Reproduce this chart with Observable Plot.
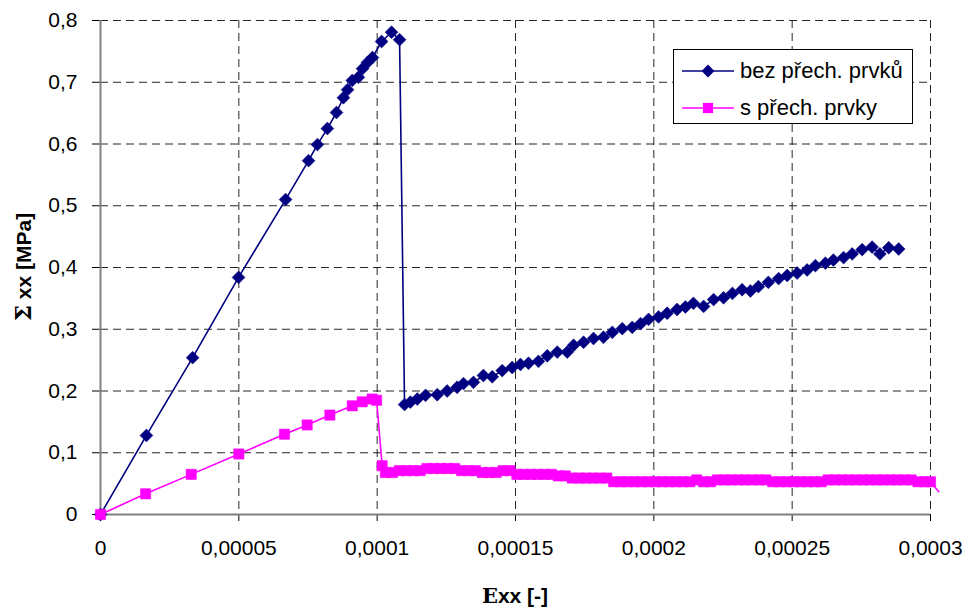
<!DOCTYPE html>
<html><head><meta charset="utf-8">
<script src="https://cdn.jsdelivr.net/npm/d3@7"></script>
<script src="https://cdn.jsdelivr.net/npm/@observablehq/plot@0.6"></script>
<style>body{margin:0;background:#fff}#chart{width:971px;height:610px}</style>
</head><body><div id="chart"></div>
<script>
// series 1: bez přech. prvků
const blueX = [0,1.66e-5,3.33e-5,4.99e-5,6.69e-5,7.52e-5,7.84e-5,8.20e-5,8.53e-5,8.78e-5,8.93e-5,9.10e-5,9.32e-5,9.47e-5,9.65e-5,9.83e-5,1.016e-4,1.052e-4,1.081e-4,
1.099e-4,1.120e-4,1.145e-4,1.175e-4,1.217e-4,1.253e-4,1.289e-4,1.312e-4,1.348e-4,1.384e-4,1.416e-4,1.452e-4,1.488e-4,1.518e-4,1.547e-4,1.583e-4,1.615e-4,1.651e-4,1.687e-4,1.710e-4,1.746e-4,1.782e-4,1.818e-4,1.850e-4,1.886e-4,1.922e-4,1.952e-4,1.981e-4,2.017e-4,2.048e-4,2.084e-4,2.114e-4,2.143e-4,2.180e-4,2.216e-4,2.252e-4,2.284e-4,2.319e-4,2.349e-4,2.378e-4,2.414e-4,2.451e-4,2.482e-4,2.518e-4,2.554e-4,2.584e-4,2.620e-4,2.649e-4,2.686e-4,2.717e-4,2.753e-4,2.789e-4,2.817e-4,2.849e-4,2.885e-4];
const blueY = [0,0.128,0.254,0.384,0.510,0.573,0.599,0.625,0.651,0.675,0.688,0.703,0.708,0.722,0.732,0.740,0.766,0.781,0.769,
0.178,0.182,0.187,0.193,0.194,0.200,0.206,0.212,0.214,0.225,0.223,0.233,0.238,0.243,0.245,0.248,0.257,0.263,0.263,0.274,0.279,0.285,0.287,0.295,0.301,0.303,0.309,0.316,0.320,0.326,0.332,0.336,0.342,0.337,0.348,0.351,0.358,0.364,0.362,0.369,0.376,0.382,0.387,0.391,0.396,0.403,0.407,0.412,0.416,0.422,0.429,0.433,0.422,0.432,0.430];
// series 2: s přech. prvky
const pinkX = [0,1.63e-5,3.28e-5,5.0e-5,6.65e-5,7.47e-5,8.29e-5,9.10e-5,9.46e-5,9.82e-5,9.98e-5,1.018e-4,
1.030e-4,1.055e-4,1.080e-4,1.105e-4,1.130e-4,1.155e-4,1.180e-4,1.205e-4,1.230e-4,1.255e-4,1.280e-4,1.305e-4,1.330e-4,1.355e-4,1.380e-4,1.405e-4,1.430e-4,1.455e-4,1.480e-4,1.505e-4,1.530e-4,1.555e-4,1.580e-4,1.605e-4,1.630e-4,1.655e-4,1.680e-4,1.705e-4,1.730e-4,1.755e-4,1.780e-4,1.805e-4,1.830e-4,
1.855e-4,1.880e-4,1.905e-4,1.930e-4,1.955e-4,1.980e-4,2.005e-4,2.030e-4,2.055e-4,2.080e-4,2.105e-4,2.130e-4,2.155e-4,2.180e-4,2.205e-4,2.230e-4,2.255e-4,2.280e-4,2.305e-4,2.330e-4,2.355e-4,2.380e-4,2.405e-4,2.430e-4,2.455e-4,2.480e-4,2.505e-4,2.530e-4,2.555e-4,2.580e-4,2.605e-4,2.630e-4,2.655e-4,2.680e-4,2.705e-4,2.730e-4,2.755e-4,2.780e-4,2.805e-4,2.830e-4,2.855e-4,2.880e-4,2.905e-4,2.930e-4,2.955e-4,2.980e-4,3.000e-4];
const pinkY = [0,0.0335,0.065,0.098,0.130,0.145,0.161,0.176,0.1825,0.187,0.185,0.079,
0.068,0.068,0.071,0.071,0.071,0.071,0.0745,0.0745,0.0745,0.0745,0.0745,0.071,0.071,0.071,0.068,0.068,0.068,0.071,0.071,0.065,0.065,0.065,0.065,0.065,0.065,0.0625,0.0625,0.059,0.059,0.059,0.059,0.059,0.059,
0.053,0.053,0.053,0.053,0.053,0.053,0.053,0.053,0.053,0.053,0.053,0.053,0.056,0.053,0.053,0.056,0.056,0.056,0.056,0.056,0.056,0.056,0.056,0.053,0.053,0.053,0.053,0.053,0.053,0.053,0.053,0.056,0.056,0.056,0.056,0.056,0.056,0.056,0.056,0.056,0.056,0.056,0.056,0.056,0.053,0.053,0.053];
const pinkTailX = [3.03e-4];
const pinkTailY = [0.037];

const xTicks = [0,0.00005,0.0001,0.00015,0.0002,0.00025,0.0003];
const xTickLabels = ["0","0,00005","0,0001","0,00015","0,0002","0,00025","0,0003"];
const yTicks = [0,0.1,0.2,0.3,0.4,0.5,0.6,0.7,0.8];
const yTickLabels = ["0","0,1","0,2","0,3","0,4","0,5","0,6","0,7","0,8"];
const seriesNames = ["bez přech. prvků","s přech. prvky"];
const colors = ["#000080","#FF00FF"];

const blue = blueX.map((x,i)=>({x, y: blueY[i]}));
const pink = pinkX.map((x,i)=>({x, y: pinkY[i]}));
const pinkLine = pink.concat(pinkTailX.map((x,i)=>({x, y: pinkTailY[i]})));

const font = "'Liberation Sans', Arial, sans-serif";
const svg = Plot.plot({
  width: 971, height: 610,
  marginLeft: 100, marginRight: 41, marginTop: 20, marginBottom: 96,
  style: {fontFamily: font, fontSize: "21px", color: "#000", background: "#fff", overflow: "visible"},
  x: {domain: [0, 0.0003], ticks: xTicks, tickFormat: d => xTickLabels[xTicks.indexOf(d)], tickSize: 7, tickPadding: 19, label: null},
  y: {domain: [0, 0.8], ticks: yTicks, tickFormat: d => yTickLabels[yTicks.indexOf(d)], tickSize: 8, tickPadding: 15, label: null},
  marks: [
    Plot.ruleX(xTicks.slice(1), {stroke: "#000", strokeWidth: 1, strokeDasharray: "8,5", strokeOpacity: 0.85}),
    Plot.ruleY(yTicks.slice(1), {stroke: "#000", strokeWidth: 1, strokeDasharray: "8,5", strokeOpacity: 0.85}),
    Plot.ruleX([0], {stroke: "#808080", strokeWidth: 2}),
    Plot.ruleY([0], {stroke: "#808080", strokeWidth: 2}),
    Plot.line(blue, {x: "x", y: "y", stroke: colors[0], strokeWidth: 1.6}),
    Plot.dot(blue, {x: "x", y: "y", symbol: "diamond2", r: 5.8, fill: colors[0], stroke: colors[0], strokeWidth: 0.5}),
    Plot.line(pinkLine, {x: "x", y: "y", stroke: colors[1], strokeWidth: 1.6}),
    Plot.dot(pink, {x: "x", y: "y", symbol: "square", r: 5.8, fill: colors[1], stroke: colors[1], strokeWidth: 0.5})
  ]
});
document.getElementById("chart").appendChild(svg);

const s = d3.select(svg);
// axis titles
const yt = s.append("text").attr("transform", "translate(31,267) rotate(-90)")
  .attr("text-anchor", "middle").attr("font-weight", "bold").attr("font-size", 21).attr("font-family", font).attr("fill", "#000");
yt.append("tspan").attr("font-family", "'DejaVu Serif', serif").attr("font-size", 23).text("Σ");
yt.append("tspan").text(" xx [MPa]");
const xt = s.append("text").attr("x", 515).attr("y", 603)
  .attr("text-anchor", "middle").attr("font-weight", "bold").attr("font-size", 21).attr("font-family", font).attr("fill", "#000");
xt.append("tspan").attr("font-family", "'DejaVu Serif', serif").text("E");
xt.append("tspan").text("xx [-]");

// legend
const lg = s.append("g");
lg.append("rect").attr("x", 673.5).attr("y", 49.5).attr("width", 239).attr("height", 74)
  .attr("fill", "#fff").attr("stroke", "#000").attr("stroke-width", 1);
const syms = [d3.symbolDiamond2, d3.symbolSquare];
const rs = [5.8, 5.8];
[71, 108].forEach((cy, i) => {
  lg.append("line").attr("x1", 682).attr("x2", 734).attr("y1", cy).attr("y2", cy)
    .attr("stroke", colors[i]).attr("stroke-width", 1.6);
  lg.append("path").attr("d", d3.symbol(syms[i], rs[i]*rs[i]*Math.PI)())
    .attr("transform", `translate(708,${cy})`).attr("fill", colors[i]);
  lg.append("text").attr("x", 740).attr("y", cy + 7).attr("text-anchor", "start").attr("font-size", 22).attr("font-family", font)
    .attr("fill", "#000").text(seriesNames[i]);
});
</script>
</body></html>
